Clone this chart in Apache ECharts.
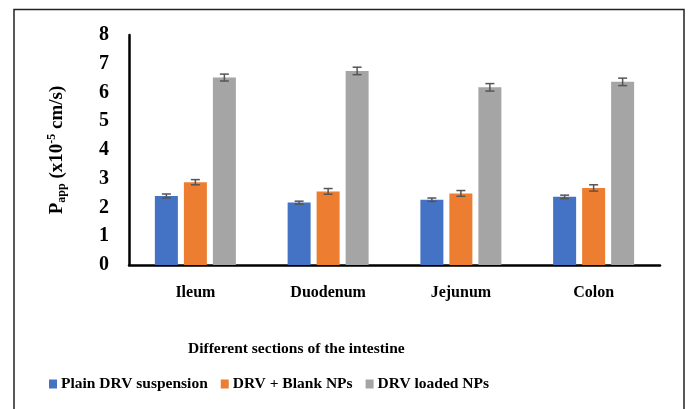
<!DOCTYPE html>
<html><head><meta charset="utf-8">
<script src="https://cdn.jsdelivr.net/npm/echarts@6/dist/echarts.min.js"></script>
<style>html,body{margin:0;padding:0;background:#fff}#c{width:688px;height:409px}</style>
</head><body><div id="c"></div>
<script>
const categories = ['Ileum', 'Duodenum', 'Jejunum', 'Colon'];
const seriesNames = ['Plain DRV suspension', 'DRV + Blank NPs', 'DRV loaded NPs'];
const plainDRV = [2.40, 2.17, 2.27, 2.37];
const blankNPs = [2.88, 2.56, 2.49, 2.68];
const loadedNPs = [6.52, 6.75, 6.18, 6.37];
const plainErr = [0.07, 0.05, 0.06, 0.06];
const blankErr = [0.09, 0.10, 0.10, 0.11];
const loadedErr = [0.12, 0.13, 0.13, 0.13];
const yTicks = [0, 1, 2, 3, 4, 5, 6, 7, 8];

const colors = ['#4472C4', '#ED7D31', '#A5A5A5'];
const values = [plainDRV, blankNPs, loadedNPs];
const errs = [plainErr, blankErr, loadedErr];
const BW = 23, GAP = 6;
const font = '"Liberation Serif", "Times New Roman", serif';

const chart = echarts.init(document.getElementById('c'));
const series = [];
values.forEach((v, i) => {
  series.push({
    name: seriesNames[i], type: 'bar', data: v, barWidth: BW, barGap: (GAP / BW * 100) + '%',
    itemStyle: { color: colors[i] }, silent: true
  });
});
values.forEach((v, i) => {
  series.push({
    type: 'custom', silent: true, z: 5,
    data: v.map((y, k) => [k, y, errs[i][k]]),
    renderItem: function (params, api) {
      const x = api.value(0), y = api.value(1), e = api.value(2);
      const off = (i - 1) * (BW + GAP);
      const hi = api.coord([x, y + e]);
      const lo = api.coord([x, y - e]);
      const cx = hi[0] + off;
      const cap = 4.5;
      const st = { stroke: '#555', lineWidth: 1.5 };
      return { type: 'group', children: [
        { type: 'line', shape: { x1: cx, y1: hi[1], x2: cx, y2: lo[1] }, style: st },
        { type: 'line', shape: { x1: cx - cap, y1: hi[1], x2: cx + cap, y2: hi[1] }, style: st },
        { type: 'line', shape: { x1: cx - cap, y1: lo[1], x2: cx + cap, y2: lo[1] }, style: st }
      ]};
    }
  });
});

chart.setOption({
  animation: false,
  textStyle: { fontFamily: font },
  grid: { left: 129, right: 28, top: 35, bottom: 144, containLabel: false },
  legend: {
    data: seriesNames, left: 44, top: 371, itemWidth: 8, itemHeight: 9, itemGap: 13,
    icon: 'rect',
    textStyle: { fontFamily: font, fontWeight: 'bold', fontSize: 15.5, color: '#000', padding: [0, 0, 0, -1] }
  },
  xAxis: {
    type: 'category', data: categories,
    axisLine: { lineStyle: { color: '#000', width: 2.5 } },
    axisTick: { show: false },
    axisLabel: { fontFamily: font, fontWeight: 'bold', fontSize: 16, color: '#000', margin: 20 }
  },
  yAxis: {
    type: 'value', min: yTicks[0], max: yTicks[yTicks.length - 1], interval: 1,
    splitLine: { show: false },
    axisLine: { show: true, lineStyle: { color: '#000', width: 2.5 } },
    axisTick: { show: false },
    axisLabel: { fontFamily: font, fontWeight: 'bold', fontSize: 20, color: '#000', margin: 20 },
    name: '{p|P}{sub|app}{t| (x10}{sup|-5}{t| cm/s)}',
    nameLocation: 'middle', nameGap: 61, nameRotate: 90,
    nameTextStyle: {
      rich: {
        p: { fontFamily: font, fontWeight: 'bold', fontSize: 19, color: '#000' },
        t: { fontFamily: font, fontWeight: 'bold', fontSize: 19, color: '#000' },
        sub: { fontFamily: font, fontWeight: 'bold', fontSize: 12, color: '#000', verticalAlign: 'bottom', padding: [10, 0, 0, 0] },
        sup: { fontFamily: font, fontWeight: 'bold', fontSize: 12, color: '#000', verticalAlign: 'top', padding: [0, 0, 8, 0] }
      }
    }
  },
  graphic: [
    { type: 'polyline', shape: { points: [[14, 420], [14, 9.5], [684, 9.5], [684, 420]] },
      style: { stroke: '#222', lineWidth: 1.5, fill: null }, silent: true },
    { type: 'text', left: 188, top: 341,
      style: { text: 'Different sections of the intestine', font: 'bold 15.5px ' + font, fill: '#000' } }
  ],
  series: series
});
</script></body></html>
